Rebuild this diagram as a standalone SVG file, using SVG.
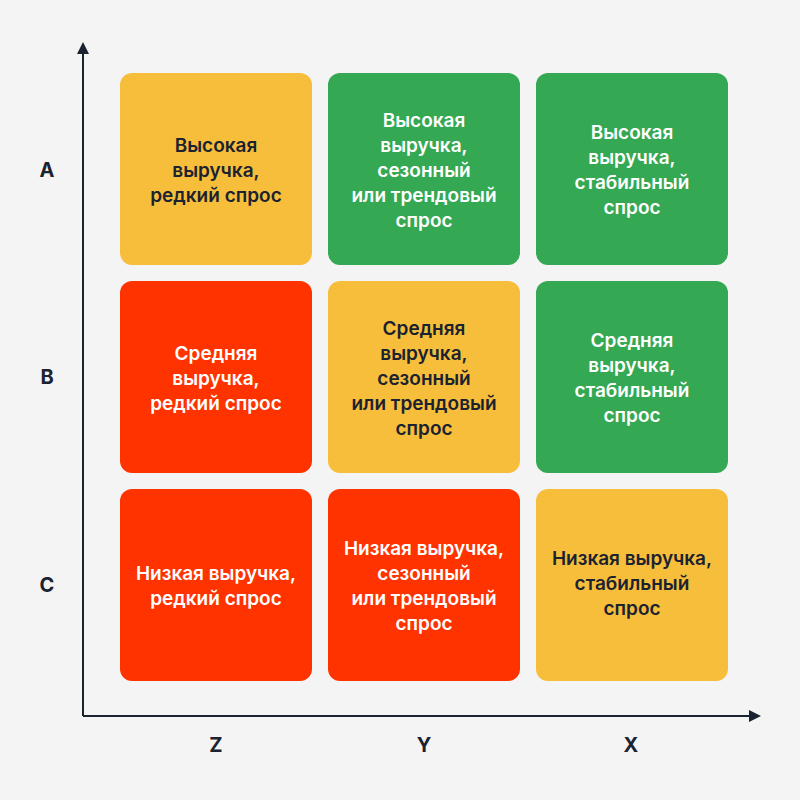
<svg xmlns="http://www.w3.org/2000/svg" width="800" height="800" viewBox="0 0 800 800">
<style>
.bg{fill:#F4F4F4}
.cell{stroke:none}
.y{fill:#F7BE3B}
.g{fill:#34A853}
.r{fill:#FF3300}
.t{font-family:Inter,"Noto Sans",sans-serif;font-size:19px;font-weight:600;text-anchor:middle}
.td{fill:#1B2230}
.tw{fill:#FFFFFF}
.ax{stroke:#1B2230;stroke-width:2;fill:none}
.lab{font-family:Inter,"Noto Sans",sans-serif;font-size:20px;font-weight:700;fill:#1B2230;text-anchor:middle}
</style>
<defs>
<marker id="arr" viewBox="0 0 12 12" refX="2" refY="6" markerWidth="12" markerHeight="12" markerUnits="userSpaceOnUse" orient="auto">
<path d="M0,0 L12,6 L0,12 z" fill="#1B2230"/>
</marker>
</defs>
<rect class="bg" x="0" y="0" width="800" height="800"/>
<g id="connectors">
<path class="ax" d="M83,716 V52" marker-end="url(#arr)"/>
<path class="ax" d="M83,716 H751" marker-end="url(#arr)"/>
</g>
<g id="axis-labels">
<text class="lab" x="47" y="177">A</text>
<text class="lab" x="47" y="384">B</text>
<text class="lab" x="47" y="592">C</text>
<text class="lab" x="216" y="752">Z</text>
<text class="lab" x="424" y="752">Y</text>
<text class="lab" x="631" y="752">X</text>
</g>
<g id="AZ">
<rect class="cell y" x="120" y="73" width="192" height="192" rx="12"/>
<text class="t td" x="216" y="152">Высокая<tspan x="216" dy="25">выручка,</tspan><tspan x="216" dy="25">редкий спрос</tspan></text>
</g>
<g id="AY">
<rect class="cell g" x="328" y="73" width="192" height="192" rx="12"/>
<text class="t tw" x="424" y="127">Высокая<tspan x="424" dy="25">выручка,</tspan><tspan x="424" dy="25">сезонный</tspan><tspan x="424" dy="25">или трендовый</tspan><tspan x="424" dy="25">спрос</tspan></text>
</g>
<g id="AX">
<rect class="cell g" x="536" y="73" width="192" height="192" rx="12"/>
<text class="t tw" x="632" y="139">Высокая<tspan x="632" dy="25">выручка,</tspan><tspan x="632" dy="25">стабильный</tspan><tspan x="632" dy="25">спрос</tspan></text>
</g>
<g id="BZ">
<rect class="cell r" x="120" y="281" width="192" height="192" rx="12"/>
<text class="t tw" x="216" y="360">Средняя<tspan x="216" dy="25">выручка,</tspan><tspan x="216" dy="25">редкий спрос</tspan></text>
</g>
<g id="BY">
<rect class="cell y" x="328" y="281" width="192" height="192" rx="12"/>
<text class="t td" x="424" y="335">Средняя<tspan x="424" dy="25">выручка,</tspan><tspan x="424" dy="25">сезонный</tspan><tspan x="424" dy="25">или трендовый</tspan><tspan x="424" dy="25">спрос</tspan></text>
</g>
<g id="BX">
<rect class="cell g" x="536" y="281" width="192" height="192" rx="12"/>
<text class="t tw" x="632" y="347">Средняя<tspan x="632" dy="25">выручка,</tspan><tspan x="632" dy="25">стабильный</tspan><tspan x="632" dy="25">спрос</tspan></text>
</g>
<g id="CZ">
<rect class="cell r" x="120" y="489" width="192" height="192" rx="12"/>
<text class="t tw" x="216" y="580">Низкая выручка,<tspan x="216" dy="25">редкий спрос</tspan></text>
</g>
<g id="CY">
<rect class="cell r" x="328" y="489" width="192" height="192" rx="12"/>
<text class="t tw" x="424" y="555">Низкая выручка,<tspan x="424" dy="25">сезонный</tspan><tspan x="424" dy="25">или трендовый</tspan><tspan x="424" dy="25">спрос</tspan></text>
</g>
<g id="CX">
<rect class="cell y" x="536" y="489" width="192" height="192" rx="12"/>
<text class="t td" x="632" y="565">Низкая выручка,<tspan x="632" dy="25">стабильный</tspan><tspan x="632" dy="25">спрос</tspan></text>
</g>
</svg>
